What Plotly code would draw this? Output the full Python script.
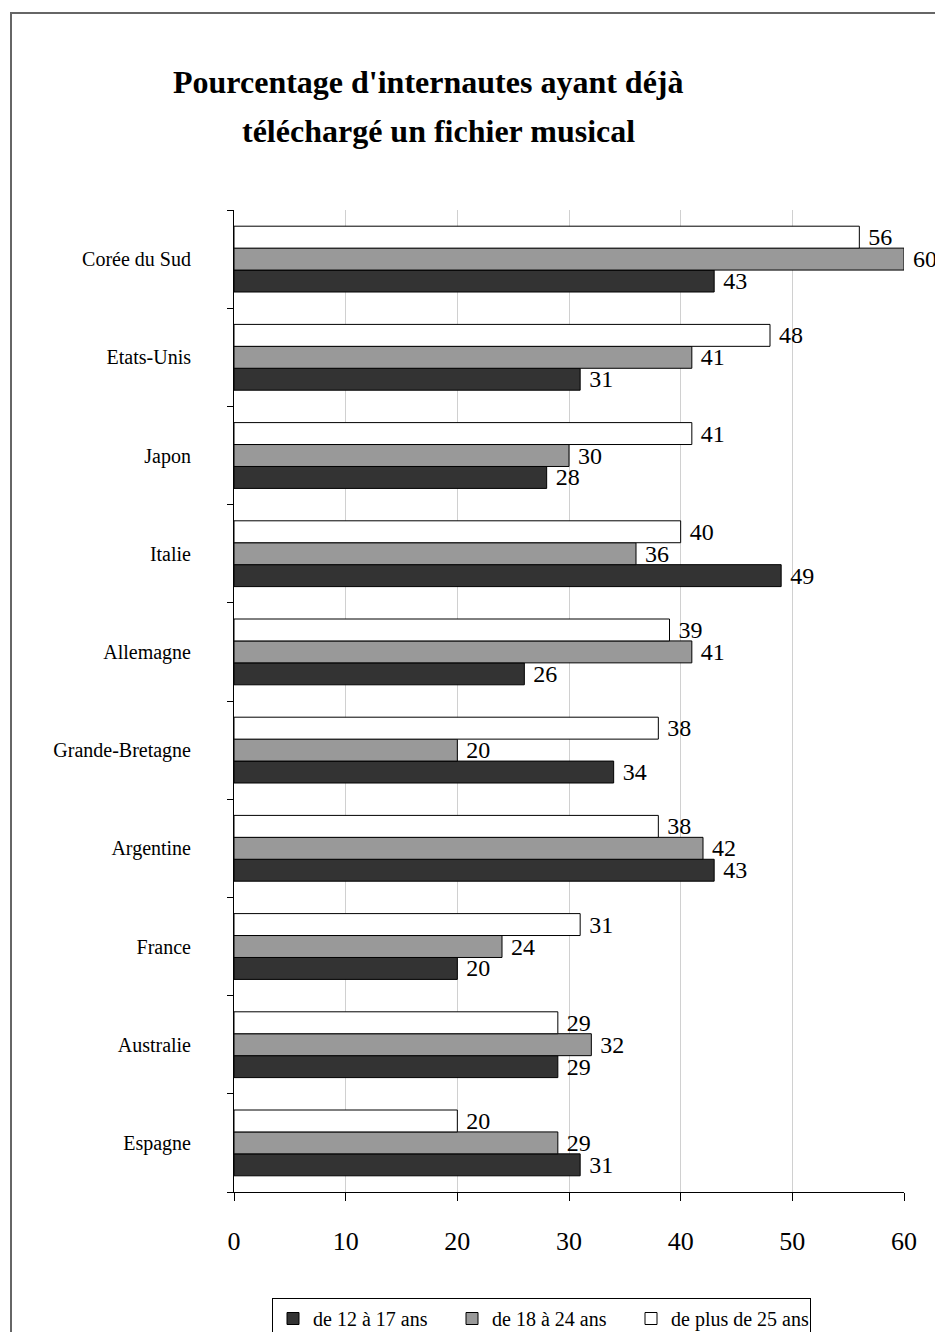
import plotly.graph_objects as go

countries = ["Corée du Sud", "Etats-Unis", "Japon", "Italie", "Allemagne",
             "Grande-Bretagne", "Argentine", "France", "Australie", "Espagne"]
age_12_17 = [43, 31, 28, 49, 26, 34, 43, 20, 29, 31]
age_18_24 = [60, 41, 30, 36, 41, 20, 42, 24, 32, 29]
age_25_plus = [56, 48, 41, 40, 39, 38, 38, 31, 29, 20]
series_names = ["de 12 à 17 ans", "de 18 à 24 ans", "de plus de 25 ans"]
series_colors = ["#333333", "#999999", "#ffffff"]
x_ticks = [0, 10, 20, 30, 40, 50, 60]

SERIF = "Liberation Serif, Times New Roman, serif"

fig = go.Figure()
for name, vals, col in zip(series_names, [age_12_17, age_18_24, age_25_plus], series_colors):
    fig.add_trace(go.Bar(
        y=countries, x=vals, name=name, orientation="h",
        marker=dict(color=col, line=dict(color="#000000", width=1)),
        text=[" " + str(v) for v in vals], textposition="outside",
        textfont=dict(family=SERIF, size=24, color="#000000"),
        constraintext="none", cliponaxis=False,
    ))

L, R, T, B = 234, 31, 210, 140
W, H = 935, 1332
pw, ph = W - L - R, H - T - B

def px_x(x):
    return (x - L) / pw

def px_y(y):
    return (H - B - y) / ph

fig.update_layout(
    width=W, height=H,
    margin=dict(l=L, r=R, t=T, b=B, pad=0, autoexpand=False),
    paper_bgcolor="white", plot_bgcolor="white",
    barmode="group", bargap=0.33, bargroupgap=0,
    font=dict(family=SERIF, color="#000000"),
    showlegend=True,
    legend=dict(
        orientation="h", x=px_x(272), y=px_y(1298), xanchor="left", yanchor="top",
        bordercolor="#000000", borderwidth=1, bgcolor="white",
        font=dict(family=SERIF, size=20), itemwidth=30,
        entrywidth=134, entrywidthmode="pixels",
    ),
    xaxis=dict(
        range=[0, 60], tickvals=x_ticks, ticktext=[str(t) for t in x_ticks],
        showgrid=True, gridcolor="#d0d0d0", gridwidth=1,
        showline=True, linecolor="#000000", linewidth=1,
        ticks="outside", ticklen=8, tickcolor="#000000",
        tickfont=dict(family=SERIF, size=26), ticklabelstandoff=18,
        zeroline=False, fixedrange=True,
    ),
    yaxis=dict(
        type="category", categoryorder="array", categoryarray=list(reversed(countries)),
        showgrid=False, showline=True, linecolor="#000000", linewidth=1,
        ticks="outside", ticklen=6, tickcolor="#000000", tickson="boundaries",
        tickfont=dict(family=SERIF, size=20), ticklabelstandoff=38,
        fixedrange=True,
    ),
    annotations=[
        dict(text="<b>Pourcentage d'internautes ayant déjà</b>", x=px_x(428), y=px_y(82),
             xref="paper", yref="paper", showarrow=False, xanchor="center", yanchor="middle",
             font=dict(family=SERIF, size=32)),
        dict(text="<b>téléchargé un fichier musical</b>", x=px_x(438), y=px_y(131),
             xref="paper", yref="paper", showarrow=False, xanchor="center", yanchor="middle",
             font=dict(family=SERIF, size=32)),
    ],
    shapes=[
        dict(type="rect", xref="paper", yref="paper",
             x0=px_x(11), x1=px_x(1000), y0=px_y(1400), y1=px_y(13),
             line=dict(color="#666666", width=2), fillcolor="rgba(0,0,0,0)", layer="below"),
    ],
)

fig.write_html("out.html")
